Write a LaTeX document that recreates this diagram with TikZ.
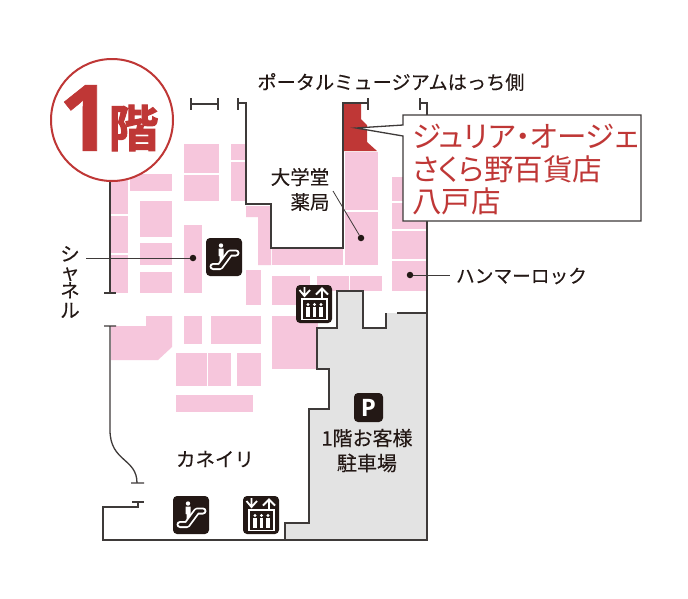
\documentclass[tikz,border=0pt]{standalone}
\usepackage{fontspec}
\setmainfont[FakeBold=0.15]{Noto Sans CJK JP}
\newfontfamily\heavy[BoldFont=Noto Sans CJK JP Bold,BoldFeatures={FakeBold=2}]{Noto Sans CJK JP}
\newfontfamily\heavylat[BoldFont=Open Sans Bold,BoldFeatures={FakeBold=0.6}]{Open Sans}
\newfontfamily\latb[BoldFont=Open Sans Bold]{Open Sans}
\newfontfamily\pal[RawFeature={+palt}]{Noto Sans CJK JP}
\definecolor{pinkr}{HTML}{F6C6DC}
\definecolor{redd}{HTML}{BF3736}
\definecolor{wallc}{HTML}{3E3A39}
\definecolor{darkic}{HTML}{231815}
\definecolor{greyp}{HTML}{E3E3E3}
\tikzset{
  x=1pt,y=-1pt,
  wall/.style={draw=wallc,line width=1.3pt,line join=miter},
  pk/.style={fill=pinkr,draw=none},
  lead/.style={draw=wallc,line width=0.8pt},
  dotk/.style={circle,fill=darkic,inner sep=0pt,minimum size=6.5pt},
  lbl/.style={inner sep=0pt,text=darkic,align=center,font=\fontsize{19.5}{24.5}\selectfont},
  redl/.style={inner sep=0pt,text=redd,align=left,font=\pal\fontsize{29.5}{32.5}\selectfont},
  icon/.style={fill=darkic,rounded corners=4pt},
  iw/.style={draw=white,line width=1.8pt},
}
\newcommand{\PR}[4]{\fill[pk] (#1,#2) rectangle (#3,#4);}
\newcommand{\elev}[2]{%
 \begin{scope}[shift={(#1,#2)}]
  \fill[icon] (0,0) rectangle (36,38);
  \draw[iw] (8.5,2)--(8.5,11) (3.5,5)--(8.5,11)--(14,5);
  \draw[iw] (26,4)--(26,13) (20,9.5)--(26,3.5)--(32,9.5);
  \draw[iw] (6,14) -- (31,14) -- (31,34.5) -- (6,34.5) -- cycle;
  \foreach \q in {12,18.5,25}{
    \fill[white] (\q,19.5) circle (1.7);
    \fill[white] (\q-1.8,22) rectangle (\q+1.8,32);
  }
 \end{scope}}
\newcommand{\escal}[2]{%
 \begin{scope}[shift={(#1,#2)}]
  \fill[icon] (0,0) rectangle (36,38);
  \fill[white] (15,7.5) circle (2.2);
  \fill[white] (12.5,10.5) rectangle (17.5,18) (13.5,18)--(17.5,18)--(17.5,20)--(13.5,24)--cycle;
  \draw[white,line width=7pt,line cap=round,line join=round] (7,28.5) -- (14,28.5) -- (24,15) -- (30,15);
  \draw[darkic,line width=3.4pt,line cap=round,line join=round] (7,28.5) -- (14,28.5) -- (24,15) -- (30,15);
 \end{scope}}
\begin{document}
\begin{tikzpicture}
\useasboundingbox (0,0) rectangle (688,598);
\fill[white] (0,0) rectangle (688,598);
% pink shops
\PR{184}{144}{219}{173}\PR{184}{175}{219}{201}
\PR{231}{144}{245}{160}\PR{231}{162}{245}{201}
\PR{111}{180}{128}{214}\PR{111}{216}{128}{253}\PR{111}{255}{128}{293}
\PR{130}{174}{172}{191}
\PR{140}{201}{172}{237}\PR{140}{243}{172}{265}\PR{140}{272}{172}{293}
\PR{184}{225}{202}{293}
\fill[pk] (246,206)--(271,206)--(271,265)--(258,265)--(258,217)--(246,217)--cycle;
\PR{272}{249}{343}{265}
\PR{345}{152}{378}{210}\PR{345}{212}{378}{265}
\PR{392}{177}{427}{201}\PR{392}{203}{427}{229}\PR{392}{231}{427}{259}\PR{392}{261}{427}{291}
\PR{246}{270}{261}{305}
\PR{272}{276}{310}{305}
\PR{317}{276}{349}{291}\PR{350}{276}{382}{291}
\fill[pk] (111,326)--(146,326)--(146,316)--(172,316)--(172,347)--(158,360)--(111,360)--cycle;
\PR{184}{316}{202}{344}\PR{211}{316}{261}{344}
\PR{272}{316}{318}{369}
\PR{176}{353}{207}{386}\PR{208}{353}{231}{386}\PR{237}{353}{261}{386}
\PR{176}{395}{253}{412}
% red shop
\fill[redd] (344,104)--(361,104)--(361,119)--(367,125)--(367,142)--(377,151)--(344,151)--cycle;
% parking
\fill[greyp] (337,291)--(363,291)--(363,328)--(386,328)--(386,313)--(427,313)--(427,540)--(285,540)--(285,523)--(309,523)--(309,409)--(329,409)--(329,369)--(317,369)--(317,328)--(337,328)--cycle;
\draw[wall] (386,313)--(386,328)--(363,328)--(363,291)--(337,291)--(337,328)--(317,328)--(317,369)--(329,369)--(329,409)--(309,409)--(309,523)--(285,523)--(285,540);
\draw[wall] (397,313)--(427,313);
% walls
\draw[wall] (238,98)--(238,110) (238,103)--(246,103)--(246,204)--(271,204)--(271,248)--(343,248)--(343,103)--(368,103) (368,98)--(368,110);
\draw[wall] (191,98)--(191,110) (191,104)--(218,104) (218,98)--(218,110);
\draw[wall] (420,98)--(420,110) (420,103)--(427,103)--(427,540)--(103,540)--(103,507)--(138,507)--(138,502) (132,502)--(144,502);
\draw[wall] (110,180)--(110,293) (104,293)--(116,293);
\draw[wall] (104,326)--(116,326) (110,326)--(110,430) .. controls (110,462) and (137,458) .. (137,483) (131,483)--(144,483);
% circle
\node[circle,draw=redd,line width=2pt,fill=white,minimum size=122pt,inner sep=0pt] (badge) at (112,120) {};
\node[inner sep=0pt,text=redd,anchor=center] (one) at (85,118) {\heavylat\bfseries\fontsize{92}{92}\selectfont 1};
\node[inner sep=0pt,text=redd,anchor=center] (kai) at (133.5,128) {\heavy\bfseries\fontsize{50}{50}\selectfont 階};
% leaders
\coordinate (ch) at (86,258);
\node[dotk] (d1) at (193,258) {};
\draw[lead] (ch)--(d1);
\coordinate (ya) at (333,191);
\node[dotk] (d2) at (361,238) {};
\draw[lead] (ya)--(d2);
\coordinate (ha) at (450,275);
\node[dotk] (d3) at (410,275) {};
\draw[lead] (d3)--(ha);
% callout
\draw[fill=white,wall] (403,115)--(641,115)--(641,221)--(403,221)--(403,136)--(356,128)--(403,125)--cycle;
\node[redl,anchor=west] (jul) at (412,136) {ジュリア・オージェ};
\node[redl,anchor=west] (sak) at (412,169) {さくら野百貨店};
\node[redl,anchor=west] (hac) at (412,201) {八戸店};
% labels
\node[lbl,font=\fontsize{19.2}{24}\selectfont] (top) at (391,82) {ポータルミュージアムはっち側};
\node[lbl] (yk1) at (300,177) {大学堂};
\node[lbl] (yk2) at (310,202) {薬局};
\node[lbl,font=\fontsize{18.7}{24}\selectfont] (hm) at (521.5,276) {ハンマーロック};
\node[lbl,font=\fontsize{19.5}{24}\selectfont] (kn) at (215,459) {カネイリ};
\node[lbl,font=\fontsize{20}{25}\selectfont] (pk1) at (367,450.5) {1階お客様\\駐車場};
\node[lbl,font=\fontsize{19.5}{18.3}\selectfont] (sh) at (70,282) {シ\\ャ\\ネ\\[1.5pt]ル};
% icons
\escal{206}{238}
\escal{173}{496}
\elev{296}{285}
\elev{243}{496}
\fill[icon] (354,393) rectangle (383,422);
\node[inner sep=0pt,text=white] (pp) at (368.5,407.5) {\latb\bfseries\fontsize{24}{24}\selectfont P};
\end{tikzpicture}
\end{document}
